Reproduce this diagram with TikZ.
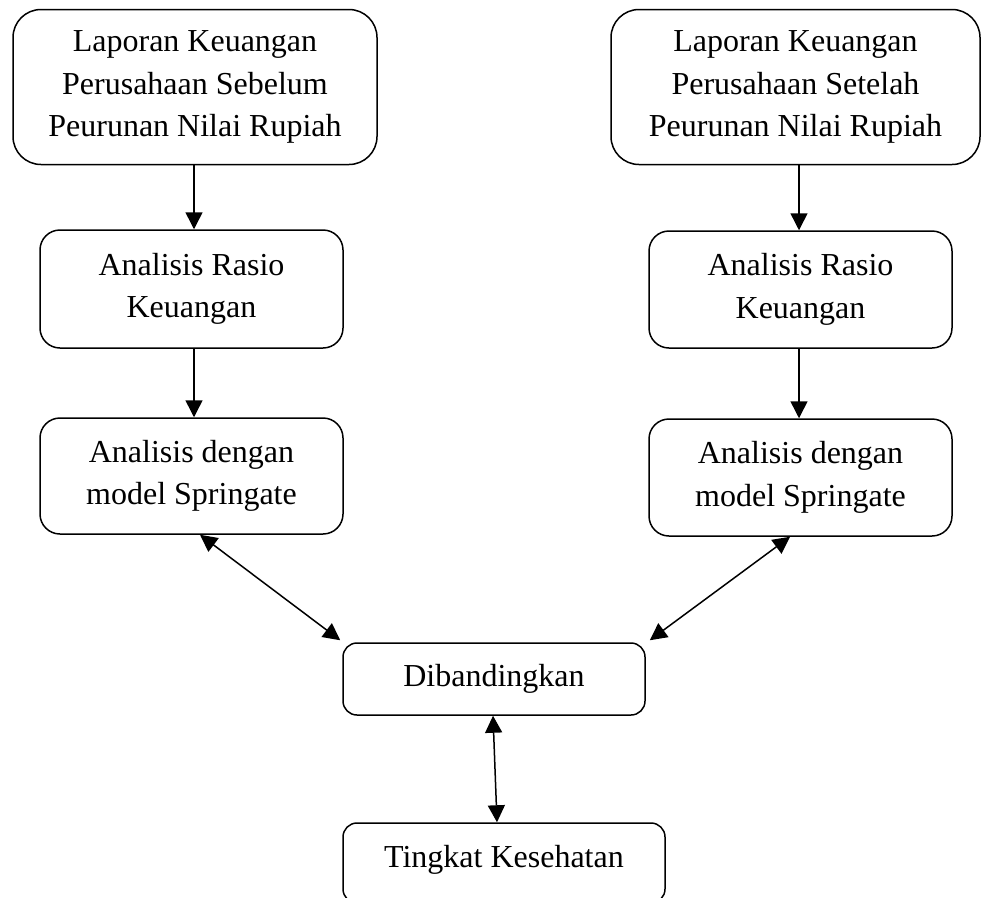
\documentclass[tikz,border=0pt]{standalone}
\usepackage{fontspec}
\setmainfont{Liberation Serif}
\usetikzlibrary{arrows.meta}
\begin{document}
\begin{tikzpicture}[x=1pt,y=-1pt,
  box/.style={draw, line width=1.5pt, align=center, inner sep=0pt,
    font=\fontsize{32}{42.5}\selectfont},
  bigbox/.style={box, rounded corners=28pt},
  midbox/.style={box, rounded corners=20pt},
  smallbox/.style={box, rounded corners=14pt},
  tip/.style={Triangle[length=17pt,width=17pt]},
  arr/.style={line width=1.5pt, -{Triangle[length=17pt,width=17pt]}},
  darr/.style={line width=1.5pt, {Triangle[length=17pt,width=17pt]}-{Triangle[length=17pt,width=17pt]}}]
\useasboundingbox (0,0) rectangle (981,897);

\node[bigbox, minimum width=364pt, minimum height=155pt] (b1) at (195,87)
  {Laporan Keuangan\\Perusahaan Sebelum\\Peurunan Nilai Rupiah};
\node[bigbox, minimum width=369pt, minimum height=155pt] (b2) at (795.5,87)
  {Laporan Keuangan\\Perusahaan Setelah\\Peurunan Nilai Rupiah};
\node[midbox, minimum width=303pt, minimum height=118pt] (b3) at (191.5,289)
  {Analisis Rasio\\Keuangan};
\node[midbox, minimum width=303pt, minimum height=117pt] (b4) at (800.5,289.5)
  {Analisis Rasio\\Keuangan};
\node[midbox, minimum width=303pt, minimum height=116pt] (b5) at (191.5,476)
  {Analisis dengan\\model Springate};
\node[midbox, minimum width=303pt, minimum height=117pt] (b6) at (800.5,477.5)
  {Analisis dengan\\model Springate};
\node[smallbox, minimum width=302pt, minimum height=72pt] (b7) at (494,679)
  {Dibandingkan};
\node[smallbox, minimum width=322pt, minimum height=80pt, text depth=14pt] (b8) at (504,863)
  {Tingkat Kesehatan};

\draw[arr] ([xshift=-1pt]b1.south) -- ([xshift=2.5pt]b3.north);
\draw[arr] ([xshift=3.5pt]b2.south) -- ([xshift=-1.5pt]b4.north);
\draw[arr] ([xshift=2.5pt]b3.south) -- ([xshift=2.5pt]b5.north);
\draw[arr] ([xshift=-1.5pt]b4.south) -- ([xshift=-1.5pt]b6.north);
\draw[darr] ([xshift=8.5pt]b5.south) -- ([shift={(-2pt,2pt)}]b7.north west);
\draw[darr] ([xshift=-10.5pt]b6.south) -- ([shift={(4pt,2pt)}]b7.north east);
\draw[darr] ([xshift=-1pt]b7.south) -- ([xshift=-7pt]b8.north);
\end{tikzpicture}
\end{document}
